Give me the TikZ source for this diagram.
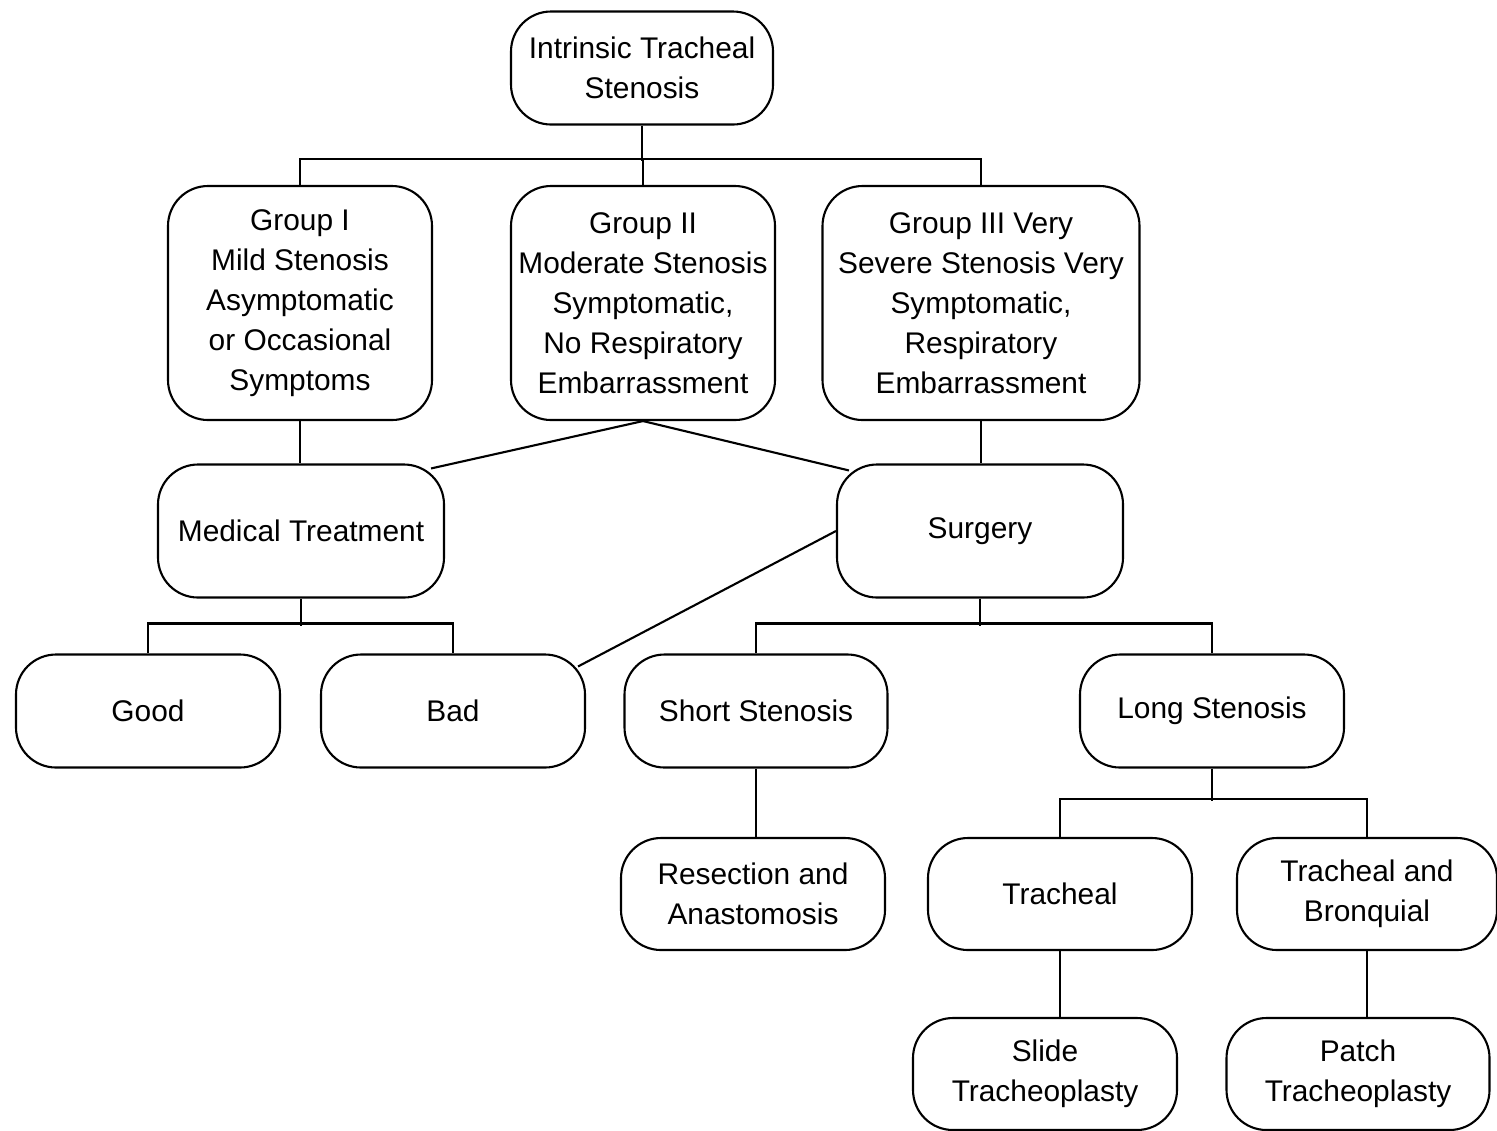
\documentclass[tikz,border=0pt]{standalone}
\usepackage{fontspec}
\setmainfont{Liberation Sans}
\usepackage{tikz}

\tikzset{
    stagebox/.style={draw,rounded corners=4mm,line width=0.6pt,align=center,
        font=\fontsize{8.5}{11.4}\selectfont,inner sep=0pt},
    link/.style={line width=0.6pt}
}

\begin{document}
\begin{tikzpicture}[x=0.1mm,y=-0.1mm]
        % picture size
        \useasboundingbox (0,0) rectangle (1497,1130);

        % top node
        \node[stagebox,minimum width=26.2mm,minimum height=11.3mm] (root) at (642,68)
            {Intrinsic Tracheal\\Stenosis};

        % the three groups
        \node[stagebox,minimum width=26.4mm,minimum height=23.4mm] (grpI) at (300,303)
            {Group I\\Mild Stenosis\\Asymptomatic\\or Occasional\\Symptoms};
        \node[stagebox,minimum width=26.4mm,minimum height=23.4mm] (grpII) at (643,303)
            {Group II\\Moderate Stenosis\\Symptomatic,\\No Respiratory\\Embarrassment};
        \node[stagebox,minimum width=31.7mm,minimum height=23.4mm] (grpIII) at (981,303)
            {Group III Very\\Severe Stenosis Very\\Symptomatic,\\Respiratory\\Embarrassment};

        % treatment
        \node[stagebox,minimum width=28.6mm,minimum height=13.3mm] (medic) at (301,531)
            {Medical Treatment};
        \node[stagebox,minimum width=28.6mm,minimum height=13.3mm] (surg) at (980,531)
            {Surgery};

        % outcomes and stenosis length
        \node[stagebox,minimum width=26.4mm,minimum height=11.3mm] (good) at (148,711) {Good};
        \node[stagebox,minimum width=26.4mm,minimum height=11.3mm] (bad) at (453,711) {Bad};
        \node[stagebox,minimum width=26.3mm,minimum height=11.3mm] (short) at (756,711)
            {Short Stenosis};
        \node[stagebox,minimum width=26.4mm,minimum height=11.3mm] (long) at (1212,711)
            {Long Stenosis};

        % procedures
        \node[stagebox,minimum width=26.4mm,minimum height=11.2mm] (resec) at (753,894)
            {Resection and\\Anastomosis};
        \node[stagebox,minimum width=26.4mm,minimum height=11.2mm] (trach) at (1060,894)
            {Tracheal};
        \node[stagebox,minimum width=26.0mm,minimum height=11.2mm] (tbron) at (1367,894)
            {Tracheal and\\Bronquial};
        \node[stagebox,minimum width=26.4mm,minimum height=11.2mm] (slide) at (1045,1074)
            {Slide\\Tracheoplasty};
        \node[stagebox,minimum width=26.3mm,minimum height=11.2mm] (patch) at (1358,1074)
            {Patch\\Tracheoplasty};

        % root to groups
        \draw[link] (root.south) -- ++(0,35);
        \draw[link] (grpI.north) -- ++(0,-26) -| (grpIII.north);
        \draw[link] (grpII.north) -- ++(0,-26);

        % groups to treatment
        \draw[link] (grpI.south) -- (grpI.south |- medic.north);
        \draw[link] (grpIII.south) -- (grpIII.south |- surg.north);
        \draw[link] ([shift={(-14,5)}]medic.north east) -- (grpII.south)
                    -- ([shift={(13,7)}]surg.north west);

        % medical treatment outcomes
        \draw[link] (good.north) -- ++(0,-30) -| (bad.north);
        \draw[link] (medic.south) -- ++(0,27);
        \draw[link] ([shift={(-8,13)}]bad.north east) -- (surg.west);

        % surgery branches
        \draw[link] (short.north) -- ++(0,-30) -| (long.north);
        \draw[link] (surg.south) -- ++(0,27);
        \draw[link] (short) -- (short |- resec.north);

        % long stenosis branches
        \draw[link] (trach.north) -- ++(0,-38) -| (tbron.north);
        \draw[link] (long.south) -- ++(0,32);
        \draw[link] (trach.south) -- (trach.south |- slide.north);
        \draw[link] (tbron.south) -- (tbron.south |- patch.north);
    \end{tikzpicture}
\end{document}
